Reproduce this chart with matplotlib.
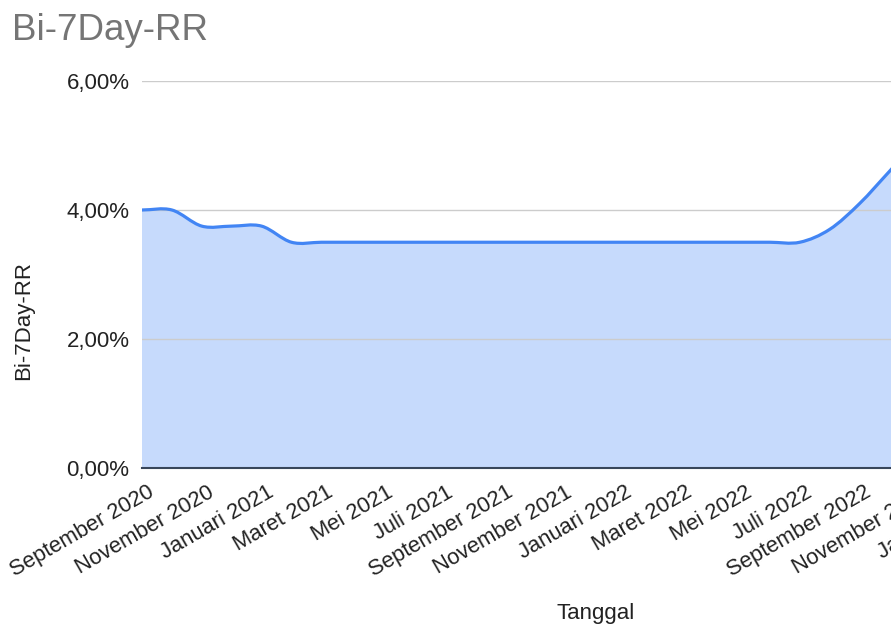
import matplotlib
matplotlib.use("Agg")
import matplotlib.pyplot as plt
from matplotlib.path import Path
from matplotlib.patches import PathPatch
import matplotlib.transforms as mtransforms
from matplotlib.ticker import FuncFormatter

plt.rcParams["font.family"] = ["Liberation Sans", "DejaVu Sans"]

# --- data (BI 7-Day Reverse Repo Rate, %) ---
months = [
    "September 2020", "Oktober 2020", "November 2020", "Desember 2020",
    "Januari 2021", "Februari 2021", "Maret 2021", "April 2021",
    "Mei 2021", "Juni 2021", "Juli 2021", "Agustus 2021",
    "September 2021", "Oktober 2021", "November 2021", "Desember 2021",
    "Januari 2022", "Februari 2022", "Maret 2022", "April 2022",
    "Mei 2022", "Juni 2022", "Juli 2022", "Agustus 2022",
    "September 2022", "Oktober 2022", "November 2022", "Desember 2022",
    "Januari 2023",
]
rate = [
    4.00, 4.00, 3.75, 3.75,
    3.75, 3.50, 3.50, 3.50,
    3.50, 3.50, 3.50, 3.50,
    3.50, 3.50, 3.50, 3.50,
    3.50, 3.50, 3.50, 3.50,
    3.50, 3.50, 3.50, 3.70,
    4.10, 4.60, 5.10, 5.45,
    5.70,
]
y_ticks = [0, 2, 4, 6]

LINE = "#4285f4"
FILL = "#c6dafc"
TEXT = "#222222"


def smooth_path(xs, ys):
    """Catmull-Rom kurva -> bezier path (mirip curveType 'function')"""
    n = len(xs)
    verts = [(xs[0], ys[0])]
    codes = [Path.MOVETO]
    for i in range(n - 1):
        p0 = ys[max(i - 1, 0)]
        p1 = ys[i]
        p2 = ys[i + 1]
        p3 = ys[min(i + 2, n - 1)]
        dx = xs[i + 1] - xs[i]
        verts += [
            (xs[i] + dx / 3, p1 + (p2 - p0) / 6),
            (xs[i + 1] - dx / 3, p2 - (p3 - p1) / 6),
            (xs[i + 1], p2),
        ]
        codes += [Path.CURVE4] * 3
    return verts, codes


fig = plt.figure(figsize=(8.91, 6.27), dpi=100)
fig.patch.set_facecolor("white")

px_month = 29.9
n = len(months)
ax = fig.add_axes([142 / 891, 159 / 627, (n - 1) * px_month / 891, 387 / 627])

xs = list(range(n))
verts, codes = smooth_path(xs, rate)

# area
area_verts = [(xs[0], 0)] + verts + [(xs[-1], 0), (xs[0], 0)]
area_codes = [Path.MOVETO] + [Path.LINETO] + codes[1:] + [Path.LINETO, Path.CLOSEPOLY]
ax.add_patch(PathPatch(Path(area_verts, area_codes), facecolor=FILL,
                       edgecolor="none", zorder=1))
# line
ax.add_patch(PathPatch(Path(verts, codes), facecolor="none", edgecolor=LINE,
                       lw=2.3, capstyle="round", joinstyle="round", zorder=3))

ax.set_xlim(0, n - 1)
ax.set_ylim(0, 6)
ax.set_yticks(y_ticks)
ax.yaxis.set_major_formatter(FuncFormatter(lambda v, _: f"{v:.2f}".replace(".", ",") + "%"))
ax.grid(True, axis="y", color="#cccccc", lw=1.0, zorder=2)
ax.set_axisbelow(False)

ax.set_xticks(xs[::2])
ax.set_xticklabels(months[::2])
ax.tick_params(axis="both", length=0, colors=TEXT)
ax.tick_params(axis="y", pad=9, labelsize=16)
ax.tick_params(axis="x", pad=10, labelsize=15.8)

offset = mtransforms.ScaledTranslation(0.05, 0, fig.dpi_scale_trans)
for lbl in ax.get_xticklabels():
    lbl.set_rotation(30)
    lbl.set_rotation_mode("anchor")
    lbl.set_ha("right")
    lbl.set_va("top")
    lbl.set_transform(lbl.get_transform() + offset)

for s in ["top", "right", "left"]:
    ax.spines[s].set_visible(False)
ax.spines["bottom"].set_color("#38465a")
ax.spines["bottom"].set_linewidth(1.5)
ax.spines["bottom"].set_zorder(4)

fig.text(12 / 891, 1 - 40 / 627, "Bi-7Day-RR", fontsize=26.5, color="#757575",
         ha="left", va="baseline")
fig.text(24 / 891, 1 - 321 / 627, "Bi-7Day-RR", fontsize=16, color=TEXT,
         rotation=90, ha="center", va="center")
fig.text(596 / 891, 1 - 613 / 627, "Tanggal", fontsize=16, color=TEXT,
         ha="center", va="center")

fig.savefig("out.png", dpi=100)
